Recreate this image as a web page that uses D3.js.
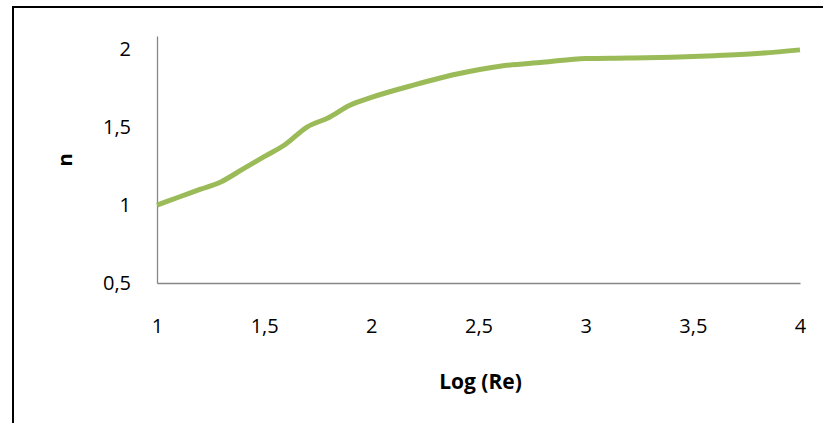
<!DOCTYPE html>
<html>
<head>
<meta charset="utf-8">
<script src="https://cdn.jsdelivr.net/npm/d3@7"></script>
<style>
  body { margin: 0; background: #fff; }
  text { font-family: "Open Sans", "Noto Sans", sans-serif; }
</style>
</head>
<body>
<script>
// log(Re) values and exponent n
var logRe = [1, 1.1, 1.2, 1.3, 1.4, 1.5, 1.6, 1.7, 1.8, 1.9, 2, 2.2, 2.4, 2.6, 2.8, 3, 3.2, 3.4, 3.6, 3.8, 4];
var nVals = [1.0, 1.05, 1.10, 1.15, 1.23, 1.31, 1.39, 1.50, 1.56, 1.64, 1.69, 1.77, 1.84, 1.89, 1.915, 1.94, 1.943, 1.948, 1.958, 1.972, 1.995];
var xTicks = [1, 1.5, 2, 2.5, 3, 3.5, 4];
var yTicks = [0.5, 1, 1.5, 2];

var window_w = 823, window_h = 423;
var margin = {left:157, top:36, right:23, bottom:140};
var frame_w = window_w - margin.left - margin.right;
var frame_h = window_h - margin.top - margin.bottom;

var data = logRe.map(function(d, i) { return {x: d, y: nVals[i]}; });

var xScale = d3.scaleLinear().domain([1, 4]).range([0, frame_w]);
var yScale = d3.scaleLinear().domain([0.5, 2.084]).range([frame_h, 0]);

var fmt = function(d) { return String(d).replace(".", ","); };

var svg = d3.select("body").append("svg")
    .attr("width", window_w)
    .attr("height", window_h);

// outer frame
svg.append("rect")
    .attr("x", 13).attr("y", 7)
    .attr("width", 830).attr("height", 440)
    .attr("fill", "none")
    .attr("stroke", "#000")
    .attr("stroke-width", 2);

var g = svg.append("g").attr("transform", "translate(" + margin.left + "," + margin.top + ")");

var xAxis = d3.axisBottom(xScale).tickValues(xTicks).tickFormat(fmt).tickSize(0).tickPadding(36);
var yAxis = d3.axisLeft(yScale).tickValues(yTicks).tickFormat(fmt).tickSize(0).tickPadding(26);

var xAxisG = g.append("g")
    .attr("transform", "translate(0," + frame_h + ")")
    .call(xAxis);
var yAxisG = g.append("g").call(yAxis);

[xAxisG, yAxisG].forEach(function(a) {
  a.select(".domain").attr("stroke", "#868686").attr("stroke-width", 1.3);
  a.selectAll("text").attr("font-size", 20).attr("fill", "#000")
    .style("font-family", "'Open Sans', sans-serif");
});

g.append("text")
    .attr("x", frame_w / 2 + 2)
    .attr("y", frame_h + 106)
    .attr("text-anchor", "middle")
    .attr("font-size", 21)
    .attr("font-weight", "bold")
    .text("Log (Re)");

g.append("text")
    .attr("transform", "rotate(-90)")
    .attr("x", -(160 - margin.top))
    .attr("y", 72 - margin.left)
    .attr("text-anchor", "middle")
    .attr("font-size", 20)
    .attr("font-weight", "bold")
    .text("n");

var line = d3.line()
    .x(function(d) { return xScale(d.x); })
    .y(function(d) { return yScale(d.y); })
    .curve(d3.curveMonotoneX);

g.append("path")
    .attr("d", line(data))
    .attr("fill", "none")
    .attr("stroke", "#9BBB59")
    .attr("stroke-width", 5)
    .attr("stroke-linejoin", "round");
</script>
</body>
</html>
